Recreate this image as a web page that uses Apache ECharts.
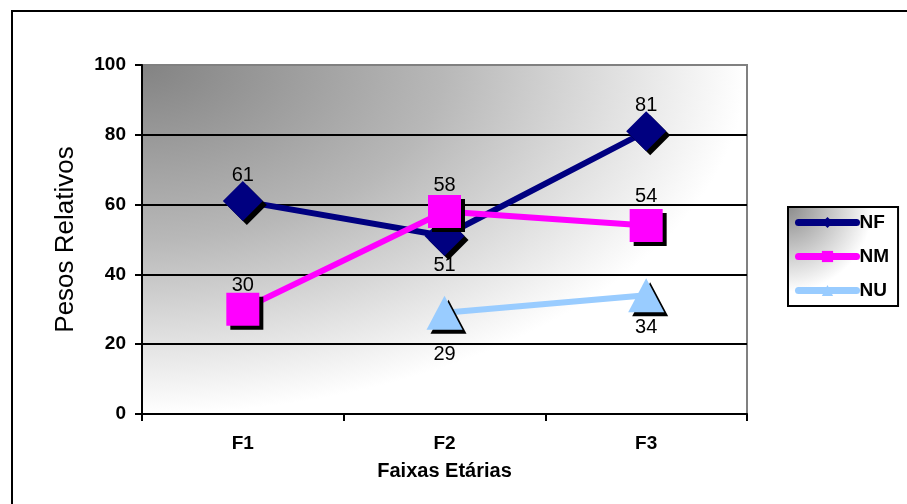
<!DOCTYPE html>
<html>
<head>
<meta charset="utf-8">
<script src="https://cdn.jsdelivr.net/npm/echarts@6/dist/echarts.min.js"></script>
<style>
  html, body { margin: 0; padding: 0; background: #fff; }
  #chart { width: 907px; height: 504px; }
</style>
</head>
<body>
<div id="chart"></div>
<script>
// Age groups and relative weights per group
const categories = ['F1', 'F2', 'F3'];
const nfValues = [61, 51, 81];
const nmValues = [30, 58, 54];
const nuValues = [null, 29, 34];
const yTicks = { min: 0, max: 100, step: 20 };

// Vertical label offsets (px) from each marker centre
const nfLabelDy = [-26, 29, -26];
const nmLabelDy = [-24, -26, -29];
const nuLabelDy = [0, 42, 32];

const FONT = '"Liberation Sans", Arial, sans-serif';

// Plot rectangle
const G = { left: 142, top: 65, width: 605, height: 349 };

function withLabels(values, dys) {
  return values.map((v, i) => (v == null ? null : {
    value: v,
    label: { offset: [0, dys[i]] }
  }));
}

const markerShadow = {
  shadowColor: '#000',
  shadowBlur: 0,
  shadowOffsetX: 4,
  shadowOffsetY: 4
};

function lineSeries(name, color, symbol, size, values, dys) {
  return {
    name: name,
    type: 'line',
    data: withLabels(values, dys),
    symbol: symbol,
    symbolSize: size,
    showAllSymbol: true,
    lineStyle: { color: color, width: 6 },
    itemStyle: Object.assign({ color: color }, markerShadow),
    label: {
      show: true,
      position: 'inside',
      color: '#000',
      fontFamily: FONT,
      fontSize: 20
    },
    emphasis: { disabled: true },
    animation: false
  };
}

const chart = echarts.init(document.getElementById('chart'), null, { renderer: 'canvas' });

chart.setOption({
  animation: false,
  backgroundColor: '#fff',
  graphic: [
    {
      // outer frame of the chart area
      type: 'rect',
      silent: true,
      z: 100,
      shape: { x: 12, y: 11, width: 1000, height: 1000 },
      style: { fill: 'none', stroke: '#000', lineWidth: 2 }
    },
    {
      // corner-shaded plot background
      type: 'rect',
      silent: true,
      z: -1,
      x: G.left,
      y: G.top,
      scaleX: G.width / G.height,
      shape: { x: 0, y: 0, width: G.height, height: G.height },
      style: {
        fill: new echarts.graphic.RadialGradient(0, 0, 1, [
          { offset: 0, color: '#838383' },
          { offset: 0.5, color: '#b8b8b8' },
          { offset: 1, color: '#ffffff' }
        ])
      }
    }
  ],
  grid: {
    left: G.left, top: G.top, width: G.width, height: G.height,
    show: true,
    backgroundColor: 'transparent',
    borderColor: '#808080',
    borderWidth: 2
  },
  legend: {
    orient: 'vertical',
    left: 788,
    top: 207,
    itemWidth: 58,
    itemHeight: 14,
    itemGap: 15,
    padding: [6, 9, 6, 7],
    borderColor: '#000',
    borderWidth: 2,
    backgroundColor: new echarts.graphic.RadialGradient(0, 0, 0.85, [
      { offset: 0, color: '#8a8a8a' },
      { offset: 1, color: '#ffffff' }
    ]),
    textStyle: { fontFamily: FONT, fontSize: 19, fontWeight: 'bold', color: '#000', padding: [0, 0, 0, -2] },
    itemStyle: { shadowOffsetX: 0, shadowOffsetY: 0, shadowColor: 'transparent' },
    lineStyle: { width: 7, cap: 'round' },
    selectedMode: false
  },
  xAxis: {
    type: 'category',
    data: categories,
    boundaryGap: true,
    axisLine: { lineStyle: { color: '#000', width: 2 } },
    axisTick: { show: true, length: 7, lineStyle: { color: '#000', width: 2 } },
    axisLabel: { color: '#000', fontFamily: FONT, fontSize: 19, fontWeight: 'bold', margin: 20 },
    name: 'Faixas Etárias',
    nameLocation: 'middle',
    nameGap: 47,
    nameTextStyle: { color: '#000', fontFamily: FONT, fontSize: 20, fontWeight: 'bold' },
    splitLine: { show: false }
  },
  yAxis: {
    type: 'value',
    min: yTicks.min,
    max: yTicks.max,
    interval: yTicks.step,
    axisLine: { show: true, lineStyle: { color: '#000', width: 2 } },
    axisTick: { show: true, length: 7, lineStyle: { color: '#000', width: 2 } },
    axisLabel: { color: '#000', fontFamily: FONT, fontSize: 19, fontWeight: 'bold', margin: 16 },
    splitLine: {
      show: true,
      lineStyle: { color: ['#000', '#000', '#000', '#000', '#000', '#808080'], width: 2 }
    },
    name: 'Pesos Relativos',
    nameLocation: 'middle',
    nameRotate: 90,
    nameGap: 63,
    nameTextStyle: { color: '#000', fontFamily: FONT, fontSize: 26 }
  },
  series: [
    lineSeries('NF', '#000080', 'diamond', 40, nfValues, nfLabelDy),
    lineSeries('NM', '#ff00ff', 'rect', 33, nmValues, nmLabelDy),
    lineSeries('NU', '#99ccff', 'triangle', [36, 34], nuValues, nuLabelDy)
  ]
});
</script>
</body>
</html>
